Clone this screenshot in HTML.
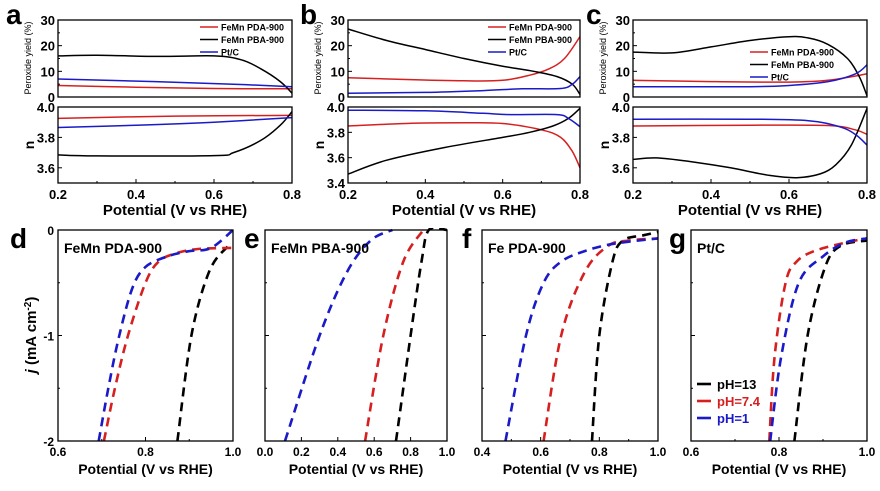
<!DOCTYPE html>
<html><head><meta charset="utf-8"><style>
html,body{margin:0;padding:0;background:#fff;}
svg{display:block;font-family:"Liberation Sans",Arial,sans-serif;}
</style></head><body>
<svg id="fig" width="880" height="491" viewBox="0 0 880 491" xmlns="http://www.w3.org/2000/svg"></svg>
<script>
// ---- data: top panels (x = potential V vs RHE) ----
const aPeroxPDA = [[0.2,4.5],[0.4,3.8],[0.6,3.3],[0.8,3.2]];
const aPeroxPBA = [[0.2,16],[0.3,16.3],[0.45,15.8],[0.6,16],[0.67,14.5],[0.72,11],[0.77,6],[0.8,1.5]];
const aPeroxPt = [[0.2,7],[0.45,6],[0.65,5],[0.8,4]];
const aNPDA = [[0.2,3.925],[0.5,3.94],[0.8,3.945]];
const aNPBA = [[0.2,3.685],[0.3,3.678],[0.6,3.68],[0.65,3.7],[0.72,3.78],[0.77,3.88],[0.8,3.97]];
const aNPt = [[0.2,3.865],[0.4,3.88],[0.6,3.9],[0.8,3.93]];

const bPeroxPDA = [[0.2,7.5],[0.35,6.8],[0.5,6.3],[0.6,6.5],[0.67,8.5],[0.72,11],[0.76,15],[0.8,23.5]];
const bPeroxPBA = [[0.2,26.5],[0.3,22],[0.4,18.5],[0.5,15],[0.6,12],[0.68,10],[0.74,8],[0.78,5],[0.8,1]];
const bPeroxPt = [[0.2,1.5],[0.4,1.8],[0.55,2.5],[0.65,3.2],[0.75,3.3],[0.78,5],[0.8,8]];
const bNPDA = [[0.2,3.85],[0.35,3.87],[0.5,3.875],[0.6,3.87],[0.7,3.82],[0.75,3.76],[0.78,3.65],[0.8,3.52]];
const bNPBA = [[0.2,3.47],[0.3,3.58],[0.45,3.68],[0.6,3.76],[0.67,3.8],[0.73,3.85],[0.77,3.91],[0.8,3.99]];
const bNPt = [[0.2,3.975],[0.4,3.97],[0.55,3.95],[0.62,3.94],[0.74,3.94],[0.77,3.91],[0.8,3.845]];

const cPeroxPDA = [[0.2,6.5],[0.4,6],[0.6,5.8],[0.7,6.5],[0.8,9]];
const cPeroxPBA = [[0.2,17.5],[0.3,17.2],[0.4,19.5],[0.5,22],[0.6,23.5],[0.65,23],[0.7,20.5],[0.75,15],[0.78,8],[0.8,0.5]];
const cPeroxPt = [[0.2,4],[0.5,4],[0.6,4.5],[0.7,6],[0.77,9],[0.8,12.5]];
const cNPDA = [[0.2,3.875],[0.5,3.88],[0.7,3.878],[0.77,3.85],[0.8,3.82]];
const cNPBA = [[0.2,3.655],[0.26,3.665],[0.35,3.64],[0.45,3.6],[0.55,3.55],[0.62,3.535],[0.68,3.56],[0.72,3.62],[0.76,3.75],[0.8,3.99]];
const cNPt = [[0.2,3.92],[0.5,3.92],[0.65,3.91],[0.73,3.87],[0.77,3.82],[0.8,3.75]];

// ---- data: bottom LSV panels (x = potential, y = j) ----
const dPH13 = [[0.873,-2],[0.905,-1],[0.945,-0.4],[0.985,-0.17],[1.0,-0.17]];
const dPH74 = [[0.705,-2],[0.73,-1.5],[0.76,-1],[0.8,-0.5],[0.83,-0.3],[0.87,-0.22],[0.92,-0.18],[1.0,-0.17]];
const dPH1 = [[0.693,-2],[0.715,-1.5],[0.74,-1],[0.77,-0.55],[0.8,-0.35],[0.85,-0.25],[0.9,-0.2],[0.95,-0.17],[1.0,0]];
const ePH13 = [[0.72,-2],[0.8,-1],[0.86,-0.3],[0.9,0],[1.0,0]];
const ePH74 = [[0.55,-2],[0.65,-1],[0.76,-0.3],[0.87,0]];
const ePH1 = [[0.11,-2],[0.3,-1],[0.45,-0.4],[0.58,-0.1],[0.7,0]];
const fPH13 = [[0.775,-2],[0.8,-1],[0.845,-0.3],[0.88,-0.1],[0.95,-0.05],[1.0,-0.02]];
const fPH74 = [[0.61,-2],[0.67,-1],[0.75,-0.4],[0.83,-0.15],[0.9,-0.1],[1.0,-0.08]];
const fPH1 = [[0.48,-2],[0.55,-1],[0.61,-0.5],[0.67,-0.3],[0.75,-0.2],[0.85,-0.13],[1.0,-0.08]];
const gPH13 = [[0.835,-2],[0.865,-1],[0.905,-0.35],[0.94,-0.15],[1.0,-0.1]];
const gPH74 = [[0.778,-2],[0.79,-1.2],[0.815,-0.5],[0.84,-0.3],[0.88,-0.2],[0.95,-0.12],[1.0,-0.08]];
const gPH1 = [[0.78,-2],[0.805,-1.2],[0.845,-0.5],[0.9,-0.25],[0.95,-0.12],[1.0,-0.08]];

const topXTicks = ["0.2","0.4","0.6","0.8"];
const legendLabels = ["FeMn PDA-900","FeMn PBA-900","Pt/C"];
const phLabels = ["pH=13","pH=7.4","pH=1"];

const NS="http://www.w3.org/2000/svg";
const svg=document.getElementById('fig');
function mk(tag,attrs,parent){const e=document.createElementNS(NS,tag);for(const k in attrs)e.setAttribute(k,attrs[k]);(parent||svg).appendChild(e);return e;}
function txt(s,x,y,size,opts,parent){opts=opts||{};const t=mk('text',{x:x,y:y,'font-size':size,'font-weight':opts.w||'bold','text-anchor':opts.a||'middle',fill:opts.fill||'#000'},parent);if(opts.rot)t.setAttribute('transform','rotate(-90 '+x+' '+y+')');if(opts.italic)t.setAttribute('font-style','italic');t.textContent=s;return t;}
function scale(d0,d1,r0,r1){return v=>r0+(v-d0)/(d1-d0)*(r1-r0);}
function smoothPath(pts){
 if(pts.length<3)return pts.map((p,i)=>(i?'L':'M')+p[0].toFixed(1)+','+p[1].toFixed(1)).join(' ');
 let d='M'+pts[0][0].toFixed(1)+','+pts[0][1].toFixed(1);
 for(let i=0;i<pts.length-1;i++){
  const p0=pts[i-1]||pts[i],p1=pts[i],p2=pts[i+1],p3=pts[i+2]||p2;
  const c1=[p1[0]+(p2[0]-p0[0])/6,p1[1]+(p2[1]-p0[1])/6];
  const c2=[p2[0]-(p3[0]-p1[0])/6,p2[1]-(p3[1]-p1[1])/6];
  d+=' C'+c1[0].toFixed(1)+','+c1[1].toFixed(1)+' '+c2[0].toFixed(1)+','+c2[1].toFixed(1)+' '+p2[0].toFixed(1)+','+p2[1].toFixed(1);
 }
 return d;}
function line(data,sx,sy,color,dash,parent){const pts=data.map(p=>[sx(p[0]),sy(p[1])]);const p=mk('path',{d:smoothPath(pts),fill:'none',stroke:color,'stroke-width':dash?2.6:1.5,'stroke-linejoin':'round'},parent);if(dash)p.setAttribute('stroke-dasharray','9,6');return p;}
function frame(x0,y0,x1,y1,parent){return mk('rect',{x:x0,y:y0,width:x1-x0,height:y1-y0,fill:'none',stroke:'#000','stroke-width':1.3},parent);}
const RED='#d62020',BLK='#000',BLU='#1a1ac8';

// ---- top panels ----
const tops=[
 {id:'a',letter:'a',lx:6,x0:58,x1:292,bot:[3.5,4.0],bticks:[3.6,3.8,4.0],perox:[aPeroxPDA,aPeroxPBA,aPeroxPt],n:[aNPDA,aNPBA,aNPt],leg:[200,27]},
 {id:'b',letter:'b',lx:300,x0:348,x1:580,bot:[3.4,4.0],bticks:[3.4,3.6,3.8,4.0],perox:[bPeroxPDA,bPeroxPBA,bPeroxPt],n:[bNPDA,bNPBA,bNPt],leg:[488,27]},
 {id:'c',letter:'c',lx:586,x0:633,x1:867,bot:[3.5,4.0],bticks:[3.6,3.8,4.0],perox:[cPeroxPDA,cPeroxPBA,cPeroxPt],n:[cNPDA,cNPBA,cNPt],leg:[750,52]}
];
const colors=[RED,BLK,BLU];
tops.forEach(P=>{
 const g=mk('g',{});
 
 
 const sx=scale(0.2,0.8,P.x0,P.x1);
 const syT=scale(0,30,97,20);
 const syB=scale(P.bot[0],P.bot[1],183,107);
 const lt=txt(P.letter,P.lx,24,28,{a:'start'},g);
 
 P.perox.forEach((s,i)=>{const l=line(s,sx,syT,colors[i],false,g);
  
  });
 P.n.forEach((s,i)=>{const l=line(s,sx,syB,colors[i],false,g);
  
  });
 frame(P.x0,20,P.x1,97,g);frame(P.x0,107,P.x1,183,g);
 [0,10,20,30].forEach(v=>{const y=syT(v);mk('line',{x1:P.x0,x2:P.x0+4,y1:y,y2:y,stroke:'#000'},g);txt(String(v),P.x0-3,y+5,13,{a:'end'},g);});
 [5,15,25].forEach(v=>{const y=syT(v);mk('line',{x1:P.x0,x2:P.x0+2,y1:y,y2:y,stroke:'#000'},g);});
 P.bticks.forEach(v=>{const y=syB(v);mk('line',{x1:P.x0,x2:P.x0+4,y1:y,y2:y,stroke:'#000'},g);txt(v.toFixed(1),P.x0-3,y+5,13,{a:'end'},g);});
 topXTicks.forEach(t=>{const x=sx(+t);mk('line',{x1:x,x2:x,y1:183,y2:179,stroke:'#000'},g);txt(t,x,199,13,{},g);});
 [0.3,0.5,0.7].forEach(v=>{const x=sx(v);mk('line',{x1:x,x2:x,y1:183,y2:181,stroke:'#000'},g);});
 const xt=txt('Potential (V vs RHE)',(P.x0+P.x1)/2,215,15,{},g);
 
 const yt=txt('Peroxide yield (%)',P.x0-27,58,9,{rot:true,w:'normal'},g);
 
 const nt=txt('n',P.x0-24,145,14,{rot:true},g);
 
 legendLabels.forEach((lab,i)=>{const y=P.leg[1]+i*12.5;
  const e=mk('g',{},g);
  
  
  mk('line',{x1:P.leg[0],x2:P.leg[0]+18,y1:y,y2:y,stroke:colors[i],'stroke-width':1.5},e);
  txt(lab,P.leg[0]+21,y+3.5,9,{a:'start'},e);});
});

// ---- bottom panels ----
const bots=[
 {id:'d',lx:10,x0:58,x1:233,xr:[0.6,1.0],xt:["0.6","0.8","1.0"],minor:[0.7,0.9],title:'FeMn PDA-900',s:[dPH13,dPH74,dPH1],yl:true},
 {id:'e',lx:244,x0:265,x1:447,xr:[0.0,1.0],xt:["0.0","0.2","0.4","0.6","0.8","1.0"],minor:[],title:'FeMn PBA-900',s:[ePH13,ePH74,ePH1]},
 {id:'f',lx:462,x0:482,x1:658,xr:[0.4,1.0],xt:["0.4","0.6","0.8","1.0"],minor:[0.5,0.7,0.9],title:'Fe PDA-900',s:[fPH13,fPH74,fPH1]},
 {id:'g',lx:669,x0:691,x1:867,xr:[0.6,1.0],xt:["0.6","0.8","1.0"],minor:[0.7,0.9],title:'Pt/C',s:[gPH13,gPH74,gPH1],legend:true}
];
const phColors=[BLK,RED,BLU];
bots.forEach(P=>{
 const g=mk('g',{});
 
 
 const sx=scale(P.xr[0],P.xr[1],P.x0,P.x1);
 const sy=scale(-2,0,441,230);
 const defs=mk('clipPath',{id:'clip'+P.id},g);mk('rect',{x:P.x0,y:228,width:P.x1-P.x0,height:215},defs);
 const lg=mk('g',{'clip-path':'url(#clip'+P.id+')'},g);
 P.s.forEach((s,i)=>{const l=line(s,sx,sy,phColors[i],true,lg);
  
  });
 frame(P.x0,230,P.x1,441,g);
 const lt=txt(P.id,P.lx,248,28,{a:'start'},g);
 
 const tt=txt(P.title,P.x0+6,253,14,{a:'start'},g);
 
 P.xt.forEach(t=>{const x=sx(+t);mk('line',{x1:x,x2:x,y1:441,y2:437,stroke:'#000'},g);txt(t,x,456,12,{},g);});
 P.minor.forEach(v=>{const x=sx(v);mk('line',{x1:x,x2:x,y1:441,y2:439,stroke:'#000'},g);});
 const xtl=txt('Potential (V vs RHE)',(P.x0+P.x1)/2,474,14,{},g);
 
 [-2,-1.5,-1,-0.5,0].forEach(v=>{const y=sy(v);mk('line',{x1:P.x0,x2:P.x0+(v%1===0?4:2),y1:y,y2:y,stroke:'#000'},g);});
 if(P.yl){[0,-1,-2].forEach(v=>txt(String(v),P.x0-4,sy(v)+5,12,{a:'end'},g));
  const yt=mk('text',{x:36,y:335,'font-size':15,'font-weight':'bold','text-anchor':'middle',transform:'rotate(-90 36 335)'},g);
  
  yt.innerHTML='<tspan font-style="italic">j</tspan> (mA cm<tspan dy="-5" font-size="10">-2</tspan><tspan dy="5">)</tspan>';}
 if(P.legend){phLabels.forEach((lab,i)=>{const y=384+i*17;
  const e=mk('g',{},g);
  
  
  mk('line',{x1:697,x2:711,y1:y,y2:y,stroke:phColors[i],'stroke-width':2.6},e);
  txt(lab,717,y+5,13,{a:'start',fill:phColors[i]},e);});}
});
</script>
</body></html>
